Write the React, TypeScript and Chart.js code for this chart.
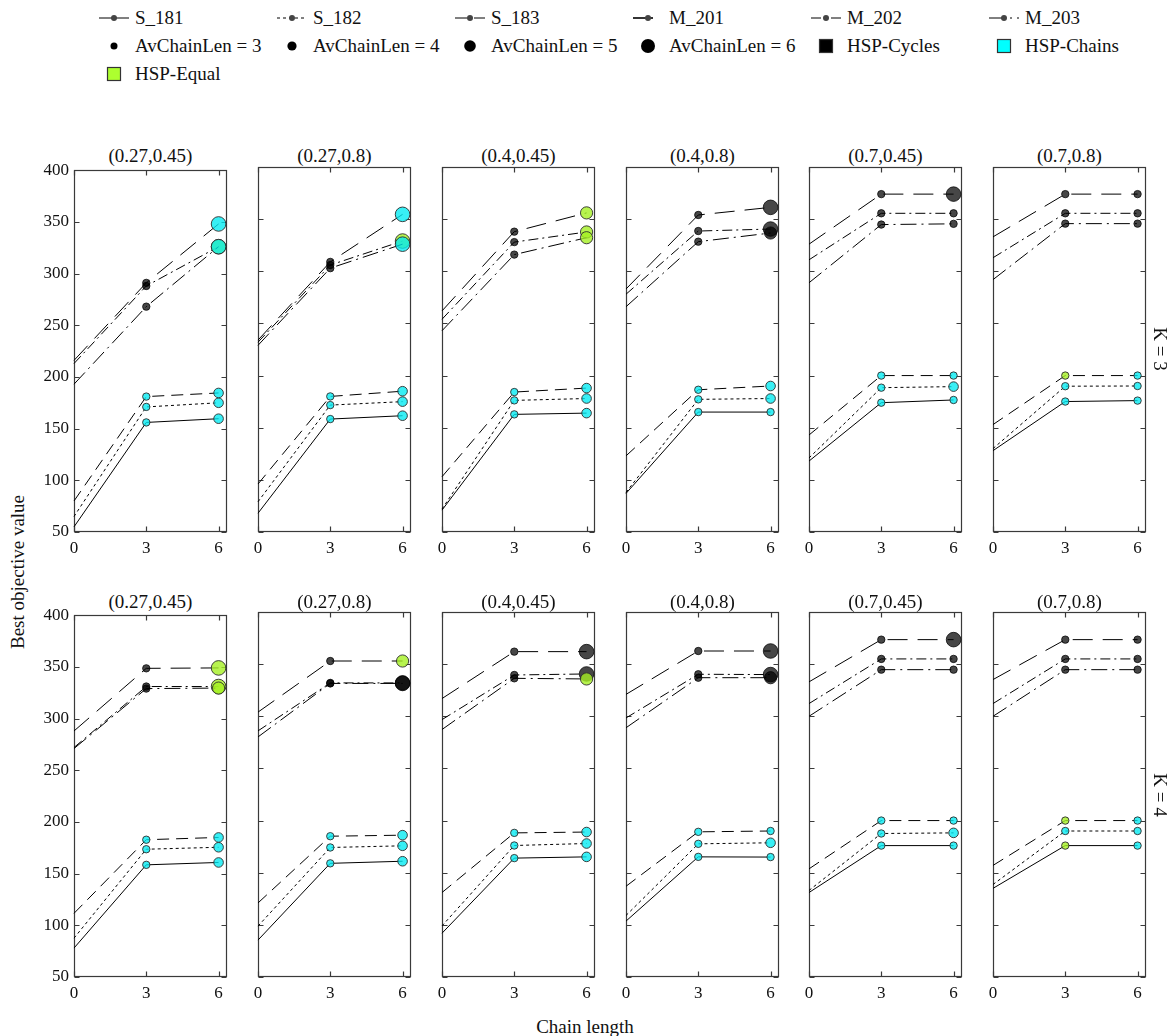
import React, { useEffect, useRef } from "react";
import { Chart, registerables } from "chart.js";
Chart.register(...registerables);

const panelTitles = ["(0.27,0.45)", "(0.27,0.8)", "(0.4,0.45)", "(0.4,0.8)", "(0.7,0.45)", "(0.7,0.8)"];
const rowLabels = ["K = 3", "K = 4"];
const chainLengths = [0, 3, 6];
const yTicks = [50, 100, 150, 200, 250, 300, 350, 400];
const seriesNames = ["S_181", "S_182", "S_183", "M_201", "M_202", "M_203"];
const avChainLenLabels = ["AvChainLen = 3", "AvChainLen = 4", "AvChainLen = 5", "AvChainLen = 6"];
const hspLabels = ["HSP-Cycles", "HSP-Chains", "HSP-Equal"];
const xAxisTitle = "Chain length";
const yAxisTitle = "Best objective value";

// values: one [chain 0, chain 3, chain 6] triple per panel (left to right)
const S_181_K3 = [[55, 156, 159.6], [68, 158.3, 161.5], [71, 162.8, 164], [87, 165, 165], [118, 174, 176.6], [128, 175.1, 176]];
const S_182_K3 = [[65, 171, 175], [79, 171.7, 175], [72, 176.2, 178], [88, 177.2, 178], [121, 188.4, 189.4], [130, 189.8, 190]];
const S_183_K3 = [[80, 181, 184.5], [96, 180, 185], [103, 184.2, 188], [123, 186.4, 190], [143, 200, 200], [153, 200, 200]];
const M_201_K3 = [[216, 291, 348], [234, 309, 354.6], [262, 338, 356], [283, 354, 361.3], [326, 374, 374], [333, 374, 374]];
const M_202_K3 = [[213, 288, 326], [232, 306, 329], [254, 328, 337.7], [278, 338.6, 340.5], [311, 355.6, 355.6], [313, 355.6, 355.6]];
const M_203_K3 = [[193, 268, 326], [229, 303, 326], [243, 316, 332.2], [266, 328.4, 336.7], [289, 344.8, 345.5], [292, 345.7, 345.7]];

const S_181_K4 = [[78, 158.5, 160.8], [85.4, 159, 161], [92, 164, 165.2], [103.6, 165.2, 165], [131, 176, 176], [135, 176, 176]];
const S_182_K4 = [[87.6, 173.6, 175.5], [98.8, 174.2, 175.8], [99, 176.1, 178], [109, 177.7, 178.7], [133, 187.6, 188.2], [138.7, 190, 190]];
const S_183_K4 = [[111.6, 182.8, 185], [121, 185, 186], [131, 188.2, 189], [137, 189.2, 190], [153.7, 200, 200], [157, 200, 200]];
const M_201_K4 = [[288, 348.6, 349], [304, 353, 353], [317, 362, 362], [321, 362.6, 362.6], [333, 373.5, 373.5], [335.2, 373.5, 373.5]];
const M_202_K4 = [[272, 331, 331], [286, 332, 332], [296.8, 339.6, 340.6], [298.4, 340.3, 340], [312.2, 355, 355], [312.2, 355, 355]];
const M_203_K4 = [[271, 329, 329.5], [280.2, 331.5, 331.5], [287.3, 336.4, 335.8], [289, 337, 337], [300, 344.7, 344.7], [300, 344.7, 344.7]];

// markers at chain length 3 and 6: HSP type (k = Cycles, c = Chains, e = Equal) + AvChainLen
const S_181_K3_marks = ["c3 c4", "c3 c4", "c3 c4", "c3 c3", "c3 c3", "c3 c3"];
const S_182_K3_marks = ["c3 c4", "c3 c4", "c3 c4", "c3 c4", "c3 c4", "c3 c3"];
const S_183_K3_marks = ["c3 c4", "c3 c4", "c3 c4", "c3 c4", "c3 c3", "e3 c3"];
const M_201_K3_marks = ["k3 c6", "k3 c6", "k3 e5", "k3 k6", "k3 k6", "k3 k3"];
const M_202_K3_marks = ["k3 e6", "k3 e6", "k3 e5", "k3 k6", "k3 k3", "k3 k3"];
const M_203_K3_marks = ["k3 c6", "k3 c6", "k3 e5", "k3 k5", "k3 k3", "k3 k3"];

const S_181_K4_marks = ["c3 c4", "c3 c4", "c3 c4", "c3 c3", "c3 c3", "e3 c3"];
const S_182_K4_marks = ["c3 c4", "c3 c4", "c3 c4", "c3 c4", "c3 c4", "c3 c3"];
const S_183_K4_marks = ["c3 c4", "c3 c4", "c3 c4", "c3 c3", "c3 c3", "e3 c3"];
const M_201_K4_marks = ["k3 e6", "k3 e5", "k3 k6", "k3 k6", "k3 k6", "k3 k3"];
const M_202_K4_marks = ["k3 e6", "k3 k6", "k3 k6", "k3 k6", "k3 k3", "k3 k3"];
const M_203_K4_marks = ["k3 e5", "k3 k6", "k3 e5", "k3 k5", "k3 k3", "k3 k3"];

const rowValues = [
  [S_181_K3, S_182_K3, S_183_K3, M_201_K3, M_202_K3, M_203_K3],
  [S_181_K4, S_182_K4, S_183_K4, M_201_K4, M_202_K4, M_203_K4],
];
const rowMarks = [
  [S_181_K3_marks, S_182_K3_marks, S_183_K3_marks, M_201_K3_marks, M_202_K3_marks, M_203_K3_marks],
  [S_181_K4_marks, S_182_K4_marks, S_183_K4_marks, M_201_K4_marks, M_202_K4_marks, M_203_K4_marks],
];

// ---- styles ----
const FONT = "'Liberation Serif', 'Times New Roman', serif";
Chart.defaults.font.family = FONT;
const seriesDash: Record<string, number[]> = {
  S_181: [],
  S_182: [3, 3],
  S_183: [12, 7],
  M_201: [20, 10],
  M_202: [10, 4, 2, 4],
  M_203: [16, 5, 2, 5],
};
const typeFill: Record<string, string> = {
  k: "rgba(0,0,0,0.72)",
  c: "rgba(0,235,242,0.78)",
  e: "rgba(165,240,35,0.8)",
};
const typeBorder: Record<string, string> = {
  k: "rgba(0,0,0,0.75)",
  c: "rgba(45,45,45,0.9)",
  e: "rgba(45,45,45,0.9)",
};
const sizeRadius: Record<string, number> = { "3": 3.7, "4": 4.8, "5": 6.1, "6": 7.3 };

const L = 40, R = 10, T = 12, B = 30;
const plotW = 153, plotH = 365;
const plotLefts = [74, 258, 442, 626, 809, 993];
const plotTops = [167, 612];

const framePlugin = {
  id: "frame",
  beforeDatasetsDraw(chart: any) {
    const { ctx, chartArea: a, scales } = chart;
    ctx.save();
    ctx.strokeStyle = "#3a3a3a";
    ctx.lineWidth = 1.2;
    const l = Math.round(a.left) + 0.5, r = Math.round(a.right) - 0.5;
    const t = Math.round(a.top) + 0.5, b = Math.round(a.bottom) - 0.5;
    ctx.strokeRect(l, t, r - l, b - t);
    const tl = 5;
    ctx.beginPath();
    for (const v of yTicks) {
      const y = Math.round(scales.y.getPixelForValue(v)) + 0.5;
      ctx.moveTo(l, y); ctx.lineTo(l + tl, y);
      ctx.moveTo(r, y); ctx.lineTo(r - tl, y);
    }
    for (const v of chainLengths) {
      const x = Math.round(scales.x.getPixelForValue(v)) + 0.5;
      ctx.moveTo(x, b); ctx.lineTo(x, b - tl);
      ctx.moveTo(x, t); ctx.lineTo(x, t + tl);
    }
    ctx.stroke();
    ctx.restore();
  },
};

function Panel({ row, col }: { row: number; col: number }) {
  const ref = useRef<HTMLCanvasElement | null>(null);
  useEffect(() => {
    const canvas = ref.current;
    if (!canvas) return;
    const datasets = seriesNames.map((name, s) => {
      const vals = rowValues[row][s][col];
      const marks = rowMarks[row][s][col].split(" ");
      const radii = [0, ...marks.map((m) => sizeRadius[m[1]])];
      const fills = ["rgba(0,0,0,0)", ...marks.map((m) => typeFill[m[0]])];
      const borders = ["rgba(0,0,0,0)", ...marks.map((m) => typeBorder[m[0]])];
      return {
        label: name,
        data: chainLengths.map((x, i) => ({ x, y: vals[i] })),
        order: seriesNames.length - s,
        borderColor: "#000",
        borderWidth: 1,
        borderDash: seriesDash[name],
        tension: 0,
        fill: false,
        pointRadius: radii,
        pointBackgroundColor: fills,
        pointBorderColor: borders,
        pointBorderWidth: 1,
        pointHoverRadius: radii,
        clip: false as any,
      };
    });
    const tickFont = { family: FONT, size: 17 };
    const chart = new Chart(canvas, {
      type: "line",
      data: { datasets },
      plugins: [framePlugin],
      options: {
        animation: false,
        responsive: false,
        events: [],
        layout: { padding: { top: T, right: R, left: 0, bottom: 0 } },
        plugins: { legend: { display: false }, tooltip: { enabled: false }, title: { display: false } },
        scales: {
          x: {
            type: "linear",
            min: 0,
            max: 6.35,
            afterBuildTicks: (s: any) => { s.ticks = chainLengths.map((v) => ({ value: v })); },
            afterFit: (s: any) => { s.height = B; },
            grid: { display: false, drawTicks: false },
            border: { display: false },
            ticks: { font: tickFont, color: "#111", padding: 6, autoSkip: false, maxRotation: 0, callback: (v: any) => String(v) },
          },
          y: {
            type: "linear",
            min: 50,
            max: 400,
            afterBuildTicks: (s: any) => { s.ticks = yTicks.map((v) => ({ value: v })); },
            afterFit: (s: any) => { s.width = L; },
            grid: { display: false, drawTicks: false },
            border: { display: false },
            ticks: { display: col === 0, font: tickFont, color: "#111", padding: 5, callback: (v: any) => String(v) },
          },
        },
      } as any,
    });
    return () => chart.destroy();
  }, [row, col]);
  return (
    <canvas
      ref={ref}
      width={plotW + L + R}
      height={plotH + T + B}
      style={{ position: "absolute", left: plotLefts[col] - L, top: plotTops[row] - T, width: plotW + L + R, height: plotH + T + B }}
    />
  );
}

const legendEntries = [...seriesNames, ...avChainLenLabels, ...hspLabels];
const legendDotR = [3.5, 4.6, 5.8, 7];
const hspKeyFill = ["#000000", "#00ffff", "#adff2f"];
const legendTextX = [135, 313, 491, 669, 847, 1025];
const legendRowY = [18, 46, 74];

function LegendKey({ index }: { index: number }) {
  if (index < 6) {
    const name = seriesNames[index];
    const dash = seriesDash[name];
    return (
      <svg width={32} height={12} style={{ position: "absolute", left: -37, top: -6 }}>
        <line x1={1} y1={6} x2={31} y2={6} stroke="#000" strokeWidth={name === "M_201" ? 1.6 : 1}
          strokeDasharray={dash.length ? dash.join(" ") : undefined} />
        <circle cx={16} cy={6} r={3} fill="#444" />
      </svg>
    );
  }
  if (index < 10) {
    const r = legendDotR[index - 6];
    return (
      <svg width={20} height={20} style={{ position: "absolute", left: -31, top: -10 }}>
        <circle cx={10} cy={10} r={r} fill="#000" />
      </svg>
    );
  }
  const fill = hspKeyFill[index - 10];
  return (
    <svg width={16} height={16} style={{ position: "absolute", left: -29, top: -8 }}>
      <rect x={1.5} y={1.5} width={13} height={13} fill={fill} stroke="#333" strokeWidth={1.2} />
    </svg>
  );
}

export default function App() {
  useEffect(() => {
    document.body.style.margin = "0";
    document.body.style.background = "#fff";
  }, []);
  const textBase: React.CSSProperties = { position: "absolute", fontFamily: FONT, fontSize: 19, color: "#111", whiteSpace: "nowrap", lineHeight: "22px" };
  return (
    <div style={{ position: "relative", width: 1170, height: 1036, background: "#fff", overflow: "hidden" }}>
      {legendEntries.map((label, i) => {
        const col = i % 6, r = Math.floor(i / 6);
        return (
          <div key={label} style={{ position: "absolute", left: legendTextX[col], top: legendRowY[r] }}>
            <LegendKey index={i} />
            <div style={{ ...textBase, left: 0, top: -11 }}>{label}</div>
          </div>
        );
      })}
      {[0, 1].map((row) =>
        panelTitles.map((t, col) => (
          <React.Fragment key={`${row}-${col}`}>
            <div style={{ ...textBase, left: plotLefts[col], width: plotW, textAlign: "center", top: (row === 0 ? 155.8 : 601.7) - 11 }}>{t}</div>
            <Panel row={row} col={col} />
          </React.Fragment>
        ))
      )}
      {rowLabels.map((k, row) => (
        <div key={k} style={{ ...textBase, left: 1160, top: row === 0 ? 349 : 795, transform: "translate(-50%, -50%) rotate(90deg)" }}>{k}</div>
      ))}
      <div style={{ ...textBase, left: 17.5, top: 572, transform: "translate(-50%, -50%) rotate(-90deg)" }}>{yAxisTitle}</div>
      <div style={{ ...textBase, left: 585, top: 1027, transform: "translate(-50%, -50%)" }}>{xAxisTitle}</div>
    </div>
  );
}
